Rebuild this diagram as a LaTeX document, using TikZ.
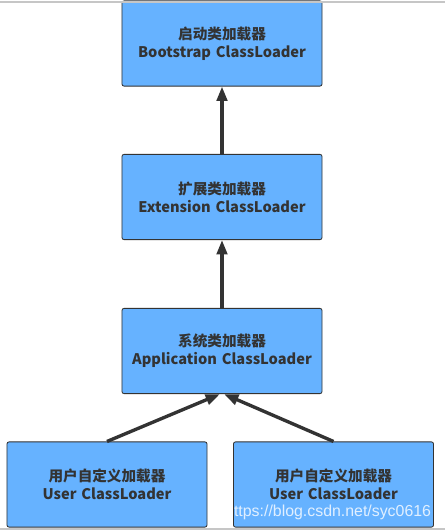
\documentclass[tikz,border=0pt]{standalone}
\usepackage{fontspec}
\newfontfamily\cjk{Noto Sans CJK SC}
\newfontfamily\webfont{Liberation Sans}
\usetikzlibrary{positioning,arrows.meta,calc}
\definecolor{boxblue}{RGB}{102,178,255}
\definecolor{boxline}{RGB}{51,51,51}
\definecolor{txtgray}{RGB}{51,51,51}
\begin{document}
\begin{tikzpicture}[
  x=0.025cm, y=-0.025cm,
  font=\cjk\bfseries\fontsize{10.4pt}{13pt}\selectfont,
  box/.style={draw=boxline, rounded corners=1.5pt, align=center, text width=4.6cm,
    minimum width=5cm, minimum height=2.13cm, inner sep=0pt, fill=boxblue,
    text=txtgray, line width=0.6pt},
  arr/.style={-{Triangle[length=3.6mm, width=2.6mm]}, line width=2.4pt, draw=boxline},
  every node/.style={align=center}
]
\useasboundingbox (0,0) rectangle (445,530);
\node[box] (box-boot) at (222,43.5) {启动类加载器\\Bootstrap ClassLoader};
\node[box] (box-ext) at (222,197) {扩展类加载器\\Extension ClassLoader};
\node[box] (box-app) at (222,351) {系统类加载器\\Application ClassLoader};
\node[box] (box-user-1) at (107,484.5) {用户自定义加载器\\User ClassLoader};
\node[box] (box-user-2) at (333.5,484.5) {用户自定义加载器\\User ClassLoader};
\draw[arr] (box-ext.north) -- (box-boot.south);
\draw[arr] (box-app.north) -- (box-ext.south);
\draw[arr] (box-user-1.north) -- ([xshift=-0.05cm]box-app.south);
\draw[arr] (box-user-2.north) -- ([xshift=0.05cm]box-app.south);
% frame lines of the screenshot
\draw[gray!45, line width=0.8pt] (0,2) -- (445,2);
\draw[gray!45, line width=0.8pt] (0,529) -- (445,529);
\node[font=\webfont\fontsize{11.3pt}{13pt}\selectfont, text=white, opacity=0.8, anchor=east] (mark) at (436,512) {https://blog.csdn.net/syc0616};
\end{tikzpicture}
\end{document}
